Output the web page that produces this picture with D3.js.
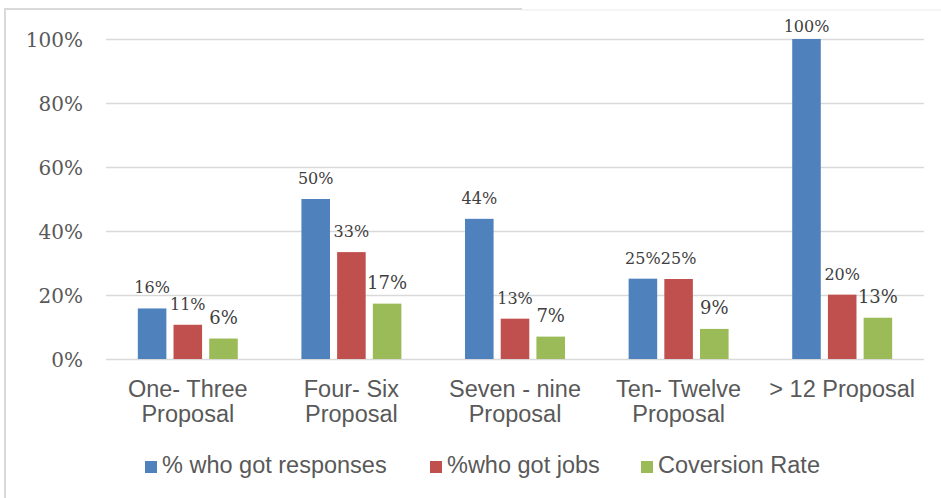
<!DOCTYPE html>
<html>
<head>
<meta charset="utf-8">
<script src="https://cdn.jsdelivr.net/npm/d3@7"></script>
<style>
  html, body { margin: 0; padding: 0; background: #ffffff; }
  svg { display: block; }
</style>
</head>
<body>
<svg id="chart" width="941" height="498"></svg>
<script>
// Proposal-count buckets along the x axis
const categories = [
  ["One- Three", "Proposal"],
  ["Four- Six", "Proposal"],
  ["Seven - nine", "Proposal"],
  ["Ten- Twelve", "Proposal"],
  ["> 12 Proposal"]
];
const seriesNames = ["% who got responses", "%who got jobs", "Coversion Rate"];
const seriesColors = ["#4f81bd", "#c0504d", "#9bbb59"];

// Shares per bucket (fractions of 1)
const responses = [0.158, 0.50, 0.438, 0.251, 1.00];
const jobs      = [0.107, 0.334, 0.126, 0.250, 0.201];
const conversion = [0.064, 0.173, 0.070, 0.094, 0.129];

const yTicks = [0, 0.2, 0.4, 0.6, 0.8, 1.0];

const seriesValues = [responses, jobs, conversion];

const svg = d3.select("#chart");

// Outer frame of the chart object
svg.append("line").attr("x1", 4).attr("x2", 522).attr("y1", 9).attr("y2", 9)
  .attr("stroke", "#d9d9d9").attr("stroke-width", 2);
svg.append("line").attr("x1", 522).attr("x2", 941).attr("y1", 10).attr("y2", 10)
  .attr("stroke", "#ebebeb").attr("stroke-width", 1);
svg.append("line").attr("x1", 5).attr("x2", 5).attr("y1", 8).attr("y2", 498)
  .attr("stroke", "#d9d9d9").attr("stroke-width", 2);

const plot = { left: 106, right: 924, top: 39, bottom: 359 };

const x0 = d3.scaleBand()
  .domain(d3.range(categories.length))
  .range([plot.left, plot.right])
  .paddingInner(0.389)
  .paddingOuter(0.1945);

const x1 = d3.scaleBand()
  .domain(d3.range(seriesNames.length))
  .range([0, x0.bandwidth()])
  .paddingInner(0.2);

const y = d3.scaleLinear().domain([0, 1]).range([plot.bottom, plot.top]);

// Horizontal gridlines + tick labels
const yAxis = d3.axisLeft(y)
  .tickValues(yTicks)
  .tickFormat(d3.format(".0%"))
  .tickSize(-(plot.right - plot.left))
  .tickPadding(23);

const gy = svg.append("g")
  .attr("transform", `translate(${plot.left},0)`)
  .call(yAxis);
gy.select(".domain").remove();
gy.selectAll(".tick line").attr("stroke", "#d9d9d9").attr("stroke-width", 1.5);
gy.selectAll(".tick text")
  .attr("fill", "#595959")
  .attr("font-family", "'DejaVu Serif', serif")
  .attr("font-size", 20)
  .attr("dy", "0.38em");

// Bars
const groups = svg.append("g").selectAll("g")
  .data(categories.map((c, i) => i))
  .join("g")
  .attr("transform", i => `translate(${x0(i)},0)`);

groups.selectAll("rect")
  .data(i => seriesValues.map((vals, s) => ({ s, v: vals[i] })))
  .join("rect")
  .attr("x", d => x1(d.s))
  .attr("width", x1.bandwidth())
  .attr("y", d => y(d.v))
  .attr("height", d => y(0) - y(d.v))
  .attr("fill", d => seriesColors[d.s]);

// Value labels above each bar
const fmt = d3.format(".0%");
groups.selectAll("text.val")
  .data(i => seriesValues.map((vals, s) => ({ s, v: vals[i] })))
  .join("text")
  .attr("class", "val")
  .attr("x", d => x1(d.s) + x1.bandwidth() / 2)
  .attr("y", d => Math.max(y(d.v) - 15, 32))
  .attr("text-anchor", "middle")
  .attr("fill", "#404040")
  .attr("font-family", "'DejaVu Serif', serif")
  .attr("font-size", d => d.s === 2 ? 18 : 16)
  .text(d => fmt(d.v));

// Category labels (two lines where needed)
const catG = svg.append("g");
categories.forEach((lines, i) => {
  const t = catG.append("text")
    .attr("x", x0(i) + x0.bandwidth() / 2)
    .attr("y", 397)
    .attr("text-anchor", "middle")
    .attr("fill", "#595959")
    .attr("font-family", "'Liberation Sans', Arial, sans-serif")
    .attr("font-size", 23.5);
  lines.forEach((ln, k) => {
    t.append("tspan")
      .attr("x", x0(i) + x0.bandwidth() / 2)
      .attr("dy", k === 0 ? 0 : 25)
      .text(ln);
  });
});

// Legend
const legendX = [145, 430, 641];
const legend = svg.append("g");
seriesNames.forEach((name, s) => {
  legend.append("rect")
    .attr("x", legendX[s]).attr("y", 461)
    .attr("width", 12).attr("height", 12)
    .attr("fill", seriesColors[s]);
  legend.append("text")
    .attr("x", legendX[s] + 17).attr("y", 473)
    .attr("fill", "#595959")
    .attr("font-family", "'Liberation Sans', Arial, sans-serif")
    .attr("font-size", 23.5)
    .text(name);
});
</script>
</body>
</html>
